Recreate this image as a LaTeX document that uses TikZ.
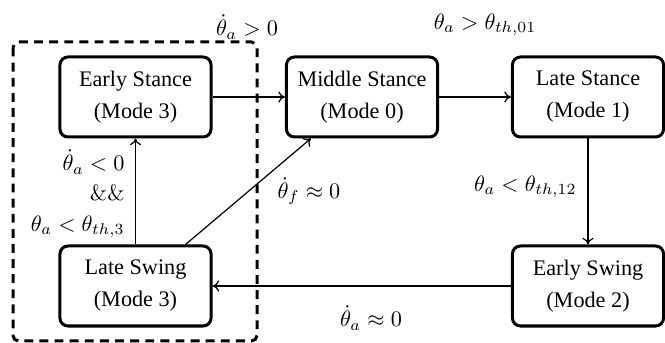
\documentclass[tikz,border=0pt]{standalone}
\usepackage[no-math]{fontspec}
\setmainfont{Liberation Serif}
\usetikzlibrary{arrows.meta}
\begin{document}
\begin{tikzpicture}[x=0.45pt,y=-0.45pt,
  modebox/.style={draw,rectangle,rounded corners=3.6pt,line width=1.35pt,
    minimum width=68pt,minimum height=36pt,inner sep=0pt,align=center},
  conn/.style={-{To[length=3pt,width=5pt]},line width=0.55pt},
  group/.style={draw,line width=1.35pt,dash pattern=on 4pt off 2.8pt,rounded corners=2.5pt},
  lbl/.style={inner sep=0pt}]
\useasboundingbox (0,0) rectangle (665,343);
\node[modebox] (es) at (135.5,97) {Early Stance\\[2.4pt](Mode 3)};
\node[modebox] (ms) at (362,97) {Middle Stance\\[2.4pt](Mode 0)};
\node[modebox] (ls) at (588,97) {Late Stance\\[2.4pt](Mode 1)};
\node[modebox] (lsw) at (135.5,286) {Late Swing\\[2.4pt](Mode 3)};
\node[modebox] (esw) at (588,286) {Early Swing\\[2.4pt](Mode 2)};
\coordinate (g1) at (13,42);
\coordinate (g2) at (257,341);
\draw[group] (g1) rectangle (g2);
\draw[conn] (es) -- (ms);
\draw[conn] (ms) -- (ls);
\draw[conn] (ls) -- (esw);
\draw[conn] (esw) -- (lsw);
\draw[conn] (lsw) -- (es);
\draw[conn] ([xshift=22.5pt]lsw.north) -- ([xshift=-23pt]ms.south);
\node[lbl] (l1) at (247,27) {$\dot{\theta}_a > 0$};
\node[lbl] (l2) at (485,25) {$\theta_a > \theta_{th,01}$};
\node[lbl,anchor=east] (l3) at (125,162) {$\dot{\theta}_a < 0$};
\node[lbl,anchor=east] (l4) at (125,193) {$\&\&$};
\node[lbl,anchor=east] (l5) at (125,227) {$\theta_a < \theta_{th,3}$};
\node[lbl] (l6) at (309,191) {$\dot{\theta}_f \approx 0$};
\node[lbl,anchor=east] (l7) at (577,187) {$\theta_a < \theta_{th,12}$};
\node[lbl] (l8) at (371,318) {$\dot{\theta}_a \approx 0$};
\end{tikzpicture}
\end{document}
